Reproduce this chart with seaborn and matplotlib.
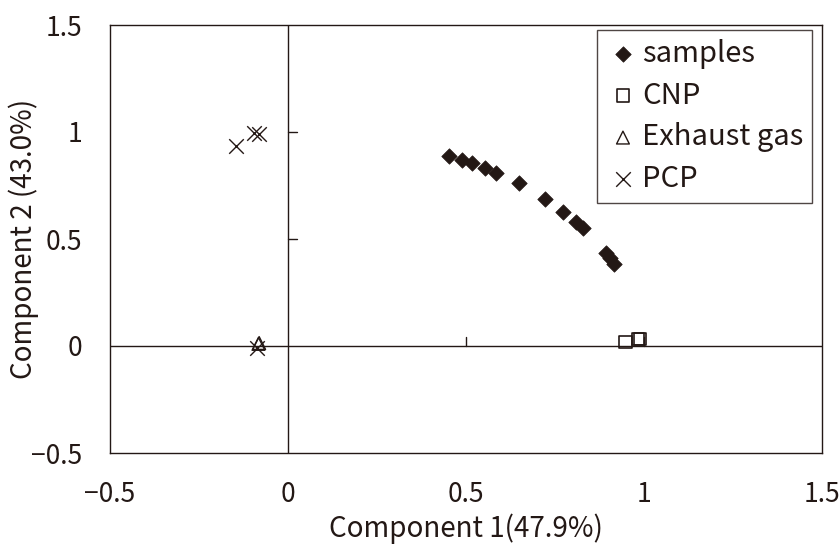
import matplotlib
matplotlib.use("Agg")
import matplotlib.pyplot as plt
import seaborn as sns
import pandas as pd

samples_x = [0.452, 0.489, 0.517, 0.553, 0.584, 0.649, 0.722, 0.772, 0.809, 0.829, 0.893, 0.904, 0.916]
samples_y = [0.888, 0.869, 0.855, 0.832, 0.808, 0.762, 0.687, 0.626, 0.579, 0.551, 0.435, 0.411, 0.383]
cnp_x = [0.947, 0.983, 0.989]
cnp_y = [0.019, 0.033, 0.033]
exhaust_x = [-0.081, -0.083]
exhaust_y = [0.014, 0.010]
pcp_x = [-0.146, -0.096, -0.081, -0.087]
pcp_y = [0.935, 0.995, 0.991, -0.009]

groups = ["samples", "CNP", "Exhaust gas", "PCP"]
xlabel = "Component 1(47.9%)"
ylabel = "Component 2 (43.0%)"
ticks = [-0.5, 0, 0.5, 1, 1.5]
tick_labels = ["\u22120.5", "0", "0.5", "1", "1.5"]

sns.set_theme(style="white")
plt.rcParams["font.family"] = ["Noto Sans CJK JP", "DejaVu Sans"]
C = "#231815"
FS = 19

df = pd.concat([
    pd.DataFrame({"x": samples_x, "y": samples_y, "g": "samples"}),
    pd.DataFrame({"x": cnp_x, "y": cnp_y, "g": "CNP"}),
    pd.DataFrame({"x": exhaust_x, "y": exhaust_y, "g": "Exhaust gas"}),
    pd.DataFrame({"x": pcp_x, "y": pcp_y, "g": "PCP"}),
])

fig = plt.figure(figsize=(8.39, 5.45), dpi=100)
ax = fig.add_axes([110/839, 1-453/545, 712/839, 428/545])

styles = {
    "samples": dict(marker="D", s=62, facecolor=C, edgecolor=C, linewidth=0.5),
    "CNP": dict(marker="s", s=85, facecolor="none", edgecolor=C, linewidth=1.2),
    "Exhaust gas": dict(marker="^", s=85, facecolor="none", edgecolor=C, linewidth=1.0),
    "PCP": dict(marker="x", s=110, color=C, linewidth=1.0),
}
for g in groups:
    sub = df[df.g == g]
    sns.scatterplot(data=sub, x="x", y="y", ax=ax, label=g, zorder=3, **styles[g])

ax.set_xlim(-0.5, 1.5)
ax.set_ylim(-0.5, 1.5)
ax.set_xticks(ticks)
ax.set_xticklabels(tick_labels)
ax.set_yticks(ticks)
ax.set_yticklabels(tick_labels)
ax.tick_params(axis="both", length=0, labelsize=FS, colors=C)
ax.tick_params(axis="x", pad=20)
ax.tick_params(axis="y", pad=20)
ax.set_xlabel(xlabel, fontsize=20, color=C)
ax.set_ylabel(ylabel, fontsize=20, color=C)
ax.xaxis.set_label_coords(0.5, -0.141)
ax.yaxis.set_label_coords(-0.10, 0.5)
for sp in ax.spines.values():
    sp.set_color(C)
    sp.set_linewidth(1.0)

ax.axhline(0, color=C, lw=1.0, zorder=1)
ax.axvline(0, color=C, lw=1.0, zorder=1)
for t in [0.5, 1.0]:
    ax.plot([t, t], [0, 0.04], color=C, lw=1.0, zorder=1)
    ax.plot([0, 0.025], [t, t], color=C, lw=1.0, zorder=1)

leg = ax.legend(loc="upper right", fontsize=21, frameon=True, fancybox=False,
                edgecolor=C, handletextpad=0.05, borderpad=0.3, labelspacing=0.4,
                handlelength=1.2, bbox_to_anchor=(0.986, 0.988), borderaxespad=0.0)
leg.get_frame().set_linewidth(1.0)
for t in leg.get_texts():
    t.set_color(C)

fig.savefig("out.png", dpi=100)
